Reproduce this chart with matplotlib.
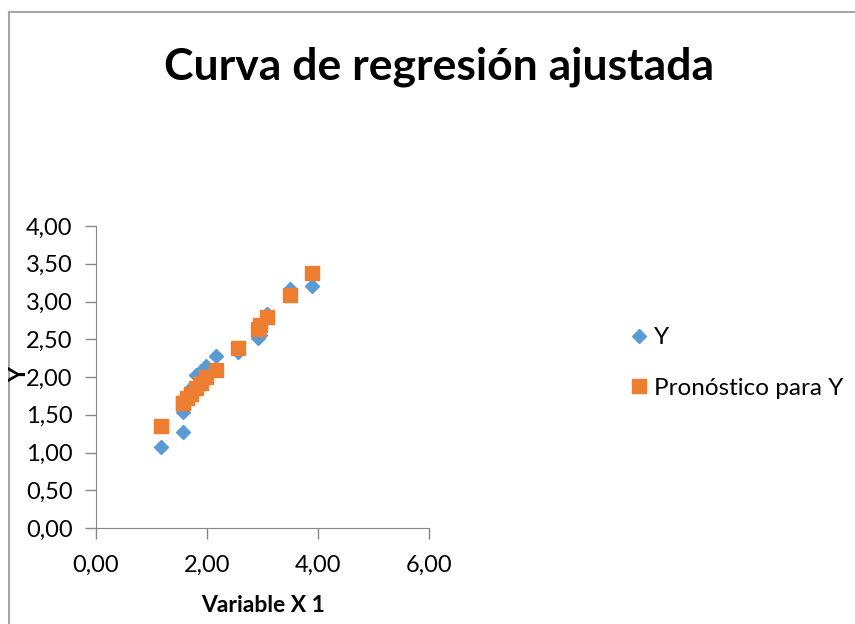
import matplotlib.pyplot as plt
from matplotlib.lines import Line2D

# valores
x_vals = [1.17, 1.56, 1.57, 1.64, 1.72, 1.81, 1.90, 1.99, 2.17, 2.55, 2.91, 2.95, 3.09, 3.49, 3.89]
y_obs = [1.07, 1.27, 1.53, 1.70, 1.85, 2.03, 2.08, 2.14, 2.28, 2.33, 2.52, 2.55, 2.84, 3.16, 3.21]
y_pred = [1.35, 1.65, 1.66, 1.72, 1.78, 1.85, 1.92, 2.00, 2.09, 2.39, 2.63, 2.69, 2.79, 3.08, 3.38]

x_ticks = [0, 2, 4, 6]
y_ticks = [0, 0.5, 1, 1.5, 2, 2.5, 3, 3.5, 4]

plt.rcParams['font.family'] = ['Lato', 'DejaVu Sans']

BLUE = '#5B9BD5'
ORANGE = '#ED7D31'
GREY = '#868686'
W, H = 855, 624

fig = plt.figure(figsize=(8.55, 6.24), dpi=100)
ax = fig.add_axes([96 / W, 1 - 528 / H, 333 / W, 302 / H])

ax.plot(x_vals, y_obs, linestyle='none', marker='D', markersize=7.5, color=BLUE, label='Y')
ax.plot(x_vals, y_pred, linestyle='none', marker='s', markersize=10, color=ORANGE, label='Pronóstico para Y')

def coma(v):
    return ('%.2f' % v).replace('.', ',')

ax.set_xlim(0, 6)
ax.set_ylim(0, 4)
ax.set_xticks(x_ticks)
ax.set_xticklabels([coma(v) for v in x_ticks])
ax.set_yticks(y_ticks)
ax.set_yticklabels([coma(v) for v in y_ticks])
ax.tick_params(labelsize=17, color=GREY, length=8, width=1)
ax.tick_params(axis='y', pad=9)
ax.tick_params(axis='x', pad=11)

ax.spines['top'].set_visible(False)
ax.spines['right'].set_visible(False)
ax.spines['left'].set_color(GREY)
ax.spines['bottom'].set_color(GREY)

fig.text(263 / W, 1 - 605 / H, 'Variable X 1', fontsize=16.5, fontweight='bold', ha='center', va='center')
fig.text(9 / W, 1 - 375 / H, 'Y', rotation=90, fontsize=16.5, fontweight='bold', va='center', ha='left')

fig.text(439 / W, 1 - 67 / H, 'Curva de regresión ajustada', fontsize=32, fontweight='bold',
         ha='center', va='center')

fig.legend(loc='center left', bbox_to_anchor=(603 / W, 1 - 363 / H), frameon=False, fontsize=17.5,
           handletextpad=0.0, labelspacing=1.2, handlelength=1.2)

# borde del area del grafico (solo se ve arriba y a la izquierda)
fig.add_artist(Line2D([8.5 / W, 1], [1 - 11.5 / H, 1 - 11.5 / H], transform=fig.transFigure,
                      color='#A6A6A6', linewidth=1.5))
fig.add_artist(Line2D([8.5 / W, 8.5 / W], [0, 1 - 11.5 / H], transform=fig.transFigure,
                      color='#A6A6A6', linewidth=1.5))

plt.savefig('out.png', dpi=100)
